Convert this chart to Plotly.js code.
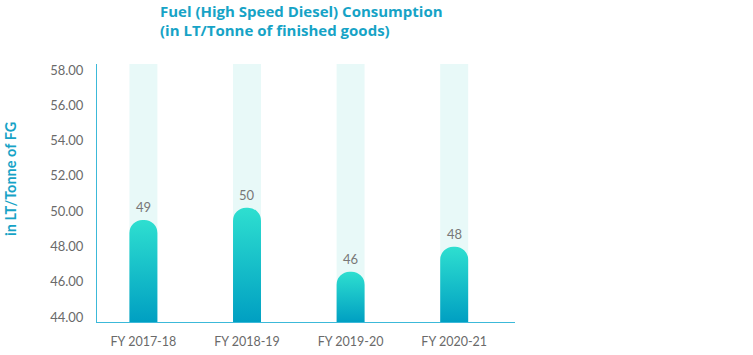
<!DOCTYPE html>
<html>
<head>
<meta charset="utf-8">
<script src="https://cdn.plot.ly/plotly-3.0.1.min.js"></script>
<style>html,body{margin:0;padding:0;background:#fff;}#chart{width:753px;height:355px;}</style>
</head>
<body>
<div id="chart"></div>
<script>
const categories = ["FY 2017-18", "FY 2018-19", "FY 2019-20", "FY 2020-21"];
const values = [49.5, 50.2, 46.57, 47.99];
const valueLabels = ["49", "50", "46", "48"];
const yMin = 43.72;
const yMax = 58.34;
const barBase = yMin - 1.2; // below the visible range so only the top end shows rounding

const trackTrace = {
  type: 'bar',
  x: categories,
  base: categories.map(() => yMin),
  y: categories.map(() => yMax - yMin),
  width: 0.27,
  marker: {color: '#e8f9f8'},
  hoverinfo: 'skip',
  showlegend: false
};
const valueTrace = {
  type: 'bar',
  x: categories,
  base: values.map(() => barBase),
  y: values.map(v => v - barBase),
  width: 0.27,
  marker: {color: '#1ac0cc', cornerradius: 14},
  showlegend: false
};

const annotations = categories.map((c, i) => ({
  x: c, y: values[i], xref: 'x', yref: 'y',
  text: valueLabels[i], showarrow: false,
  yanchor: 'bottom', yshift: 3,
  font: {family: 'Lato, sans-serif', size: 13, color: '#777777'}
}));
annotations.push({
  xref: 'paper', yref: 'paper', x: -87/418, y: (322-179)/258,
  xanchor: 'center', yanchor: 'middle', textangle: -90,
  text: 'in LT/Tonne of FG', showarrow: false,
  font: {family: 'Lato, sans-serif', size: 14.5, color: '#16a3c6', weight: 700}
});

const layout = {
  width: 753, height: 355,
  margin: {l: 97, r: 238, t: 64, b: 33},
  paper_bgcolor: '#ffffff', plot_bgcolor: '#ffffff',
  barmode: 'overlay',
  title: {
    text: 'Fuel (High Speed Diesel) Consumption<br>(in LT/Tonne of finished goods)',
    x: 160/753, xanchor: 'left', xref: 'container',
    y: 1 - 16.5/355, yanchor: 'top', yref: 'container',
    font: {family: '"Open Sans", sans-serif', size: 15, color: '#16a3c6', weight: 700}
  },
  xaxis: {
    type: 'category',
    range: [-0.448, 3.587],
    showgrid: false, zeroline: false,
    showline: true, linecolor: '#3cb9d9', linewidth: 1,
    ticks: '', ticklabelstandoff: 8,
    tickfont: {family: 'Lato, sans-serif', size: 12.5, color: '#6a6a6a'},
    fixedrange: true
  },
  yaxis: {
    range: [yMin, yMax],
    tick0: 44, dtick: 2, tickformat: '.2f',
    showgrid: false, zeroline: false,
    showline: true, linecolor: '#3cb9d9', linewidth: 1,
    ticks: '', ticklabelstandoff: 10,
    tickfont: {family: 'Lato, sans-serif', size: 13, color: '#6a6a6a'},
    fixedrange: true
  },
  annotations: annotations,
  showlegend: false
};

Plotly.newPlot('chart', [trackTrace, valueTrace], layout, {displayModeBar: false, staticPlot: true}).then(gd => {
  const svg = gd.querySelector('.main-svg');
  let defs = svg.querySelector('defs');
  const ns = 'http://www.w3.org/2000/svg';
  if (!defs) { defs = document.createElementNS(ns, 'defs'); svg.insertBefore(defs, svg.firstChild); }
  const plotBottom = gd._fullLayout.yaxis._length;
  const traces = gd.querySelectorAll('.barlayer .trace.bars');
  const last = traces[traces.length - 1];
  last.querySelectorAll('path').forEach((p, i) => {
    const bb = p.getBBox();
    const grad = document.createElementNS(ns, 'linearGradient');
    grad.setAttribute('id', 'barGrad' + i);
    grad.setAttribute('gradientUnits', 'userSpaceOnUse');
    grad.setAttribute('x1', '0'); grad.setAttribute('y1', String(bb.y));
    grad.setAttribute('x2', '0'); grad.setAttribute('y2', String(plotBottom));
    [['0', '#2edfd0'], ['1', '#009fc2']].forEach(([o, c]) => {
      const s = document.createElementNS(ns, 'stop');
      s.setAttribute('offset', o); s.setAttribute('stop-color', c);
      grad.appendChild(s);
    });
    defs.appendChild(grad);
    p.style.fill = 'url(#barGrad' + i + ')';
  });
});
</script>
</body>
</html>
